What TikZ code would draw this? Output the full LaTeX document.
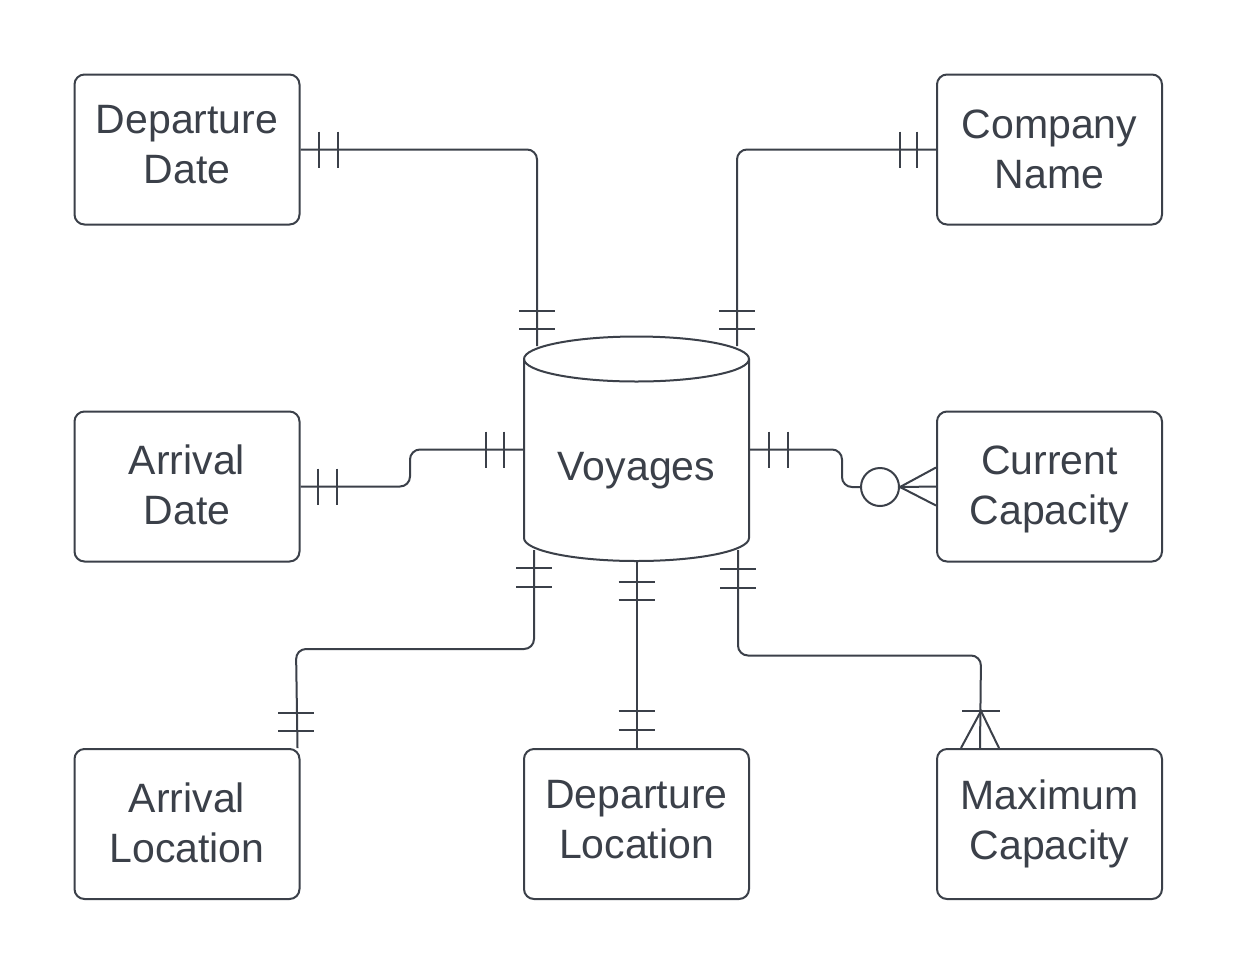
\documentclass[tikz,border=0pt]{standalone}
\usepackage{fontspec}
\setmainfont{Liberation Sans}
\usetikzlibrary{calc}
\definecolor{ink}{RGB}{59,64,73}
\begin{document}
\begin{tikzpicture}[x=1pt,y=-1pt,
  ent/.style={draw=ink,line width=2pt,rounded corners=10pt,minimum width=225pt,minimum height=150pt,inner sep=0pt},
  lbl/.style={align=center,text=ink,inner sep=0pt,font=\fontsize{41}{50}\selectfont},
  conn/.style={draw=ink,line width=2pt,rounded corners=10pt},
  tick/.style={draw=ink,line width=2pt}]
\useasboundingbox (0,0) rectangle (1238,975);
\fill[white] (0,0) rectangle (1238,975);

% entities
\node[ent] (dd) at (187,149.5) {};
\node[ent] (cn) at (1049.5,149.5) {};
\node[ent] (ad) at (187,486.5) {};
\node[ent] (cc) at (1049.5,486.5) {};
\node[ent] (al) at (187,824) {};
\node[ent] (dl) at (636.5,824) {};
\node[ent] (mc) at (1049.5,824) {};
\node[lbl] (ddt) at (187,145) {Departure\\Date};
\node[lbl] (cnt) at (1049.5,149) {Company\\Name};
\node[lbl] (adt) at (187,485) {Arrival\\Date};
\node[lbl] (cct) at (1049.5,489) {Current\\Capacity};
\node[lbl] (alt) at (187,822.5) {Arrival\\Location};
\node[lbl] (dlt) at (636.5,820) {Departure\\Location};
\node[lbl] (mct) at (1049.5,824) {Maximum\\Capacity};

% cylinder
\draw[ink,line width=2pt,fill=white] (524,359) -- (524,538) arc[start angle=180,end angle=360,x radius=112.5,y radius=-23] -- (749,359) arc[start angle=0,end angle=180,x radius=112.5,y radius=-22.5] -- cycle;
\draw[ink,line width=2pt] (524,359) arc[start angle=180,end angle=360,x radius=112.5,y radius=-22.5];
\node[lbl] (voy) at (636.5,471) {Voyages};

% attachment points on the cylinder
\coordinate (vDD) at (537,346);
\coordinate (vCN) at (737,346);
\coordinate (vAD) at (524,449.5);
\coordinate (vCC) at (749,449.5);
\coordinate (vAL) at (534,550);
\coordinate (vDL) at (636.5,561);
\coordinate (vMC) at (738,550);

% 1 Departure Date
\draw[conn] (dd.east) -| (vDD);
\foreach \x in {319,338} \draw[tick] (\x,131.5) -- (\x,167.5);
\foreach \y in {311,329} \draw[tick] (519,\y) -- (555,\y);

% 2 Company Name
\draw[conn] (cn.west) -| (vCN);
\foreach \x in {900,917} \draw[tick] (\x,131.5) -- (\x,167.5);
\foreach \y in {311,329} \draw[tick] (719,\y) -- (755,\y);

% 3 Arrival Date
\draw[conn] (ad.east) -- (410,486.5) -- (410,449.5) -- (vAD);
\foreach \x in {318,337} \draw[tick] (\x,468.5) -- (\x,504.5);
\foreach \x in {486,504} \draw[tick] (\x,431.5) -- (\x,467.5);

% 4 Current Capacity
\node[draw=ink,line width=2pt,fill=white,circle,minimum size=38pt,inner sep=0pt] (o) at (880,487) {};
\draw[conn] (vCC) -- (842,449.5) -- (842,487) -- (o.west);
\foreach \x in {769,788} \draw[tick] (\x,431.5) -- (\x,467.5);
\draw[tick] (o.east) -- (cc.west);
\draw[tick] ($(cc.west)+(0,-19)$) -- (o.east) -- ($(cc.west)+(0,19)$);

% 5 Arrival Location
\draw[conn] (vAL) -- (534,649) -- (296,649) -- ([xshift=-3pt]al.north east);
\foreach \y in {568,587} \draw[tick] (516,\y) -- (552,\y);
\foreach \y in {713,731} \draw[tick] (278,\y) -- (314,\y);

% 6 Departure Location
\draw[conn] (vDL) -- (dl.north);
\foreach \y in {582,600,711,730} \draw[tick] (618.5,\y) -- (654.5,\y);

% 7 Maximum Capacity
\coordinate (mcx) at ([xshift=44pt]mc.north west);
\draw[conn] (vMC) -- (738,655.5) -- (981,655.5) -- (mcx);
\foreach \y in {569,588} \draw[tick] (720,\y) -- (756,\y);
\draw[tick] (962,711) -- (1000,711);
\draw[tick] ($(mcx)+(-19,0)$) -- (981,711) -- ($(mcx)+(19,0)$);
\end{tikzpicture}
\end{document}
